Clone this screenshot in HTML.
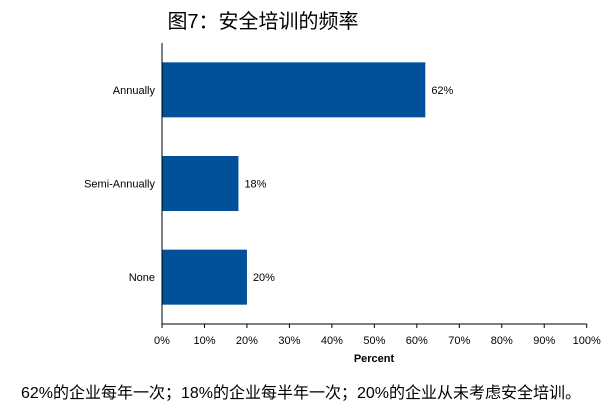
<!DOCTYPE html>
<html><head><meta charset="utf-8"><style>
body{margin:0;background:#fff;width:614px;height:413px;overflow:hidden;font-family:"Liberation Sans","Noto Sans CJK SC",sans-serif}
</style></head><body>
<svg width="614" height="413">
<text x="263" y="28" text-anchor="middle" font-size="20" fill="#000" font-family="Liberation Sans,Noto Sans CJK SC,sans-serif">图7：安全培训的频率</text>
<g id="plot"></g>
<text x="374" y="362" text-anchor="middle" font-size="11" font-weight="bold" fill="#000">Percent</text>
<text x="301" y="398" text-anchor="middle" font-size="16" fill="#000" font-family="Liberation Sans,Noto Sans CJK SC,sans-serif">62%的企业每年一次；18%的企业每半年一次；20%的企业从未考虑安全培训。</text>
</svg>
<script>
const categories=["Annually","Semi-Annually","None"];
const values=[62,18,20];
const tickValues=[0,10,20,30,40,50,60,70,80,90,100];
const NS="http://www.w3.org/2000/svg";
const g=document.getElementById('plot');
const x0=162,x1=586.7,yTop=43,yBot=324;
const xs=v=>x0+(x1-x0)*v/100;
const band=(yBot-yTop)/categories.length;
const bh=55;
function mk(t,a){const e=document.createElementNS(NS,t);for(const k in a)e.setAttribute(k,a[k]);g.appendChild(e);return e;}
categories.forEach((c,i)=>{
 const cy=yTop+band*(i+0.5);
 const r=mk('rect',{x:x0,y:cy-bh/2,width:xs(values[i])-x0,height:bh,fill:'#00519A'});
 
 
 const l=mk('text',{x:x0-7,y:cy+4,'text-anchor':'end','font-size':'11',fill:'#000'});l.textContent=c;
 
 
 const v=mk('text',{x:xs(values[i])+6,y:cy+4,'font-size':'11',fill:'#000'});v.textContent=values[i]+'%';
 
 
});
const ya=mk('line',{x1:x0,x2:x0,y1:yTop,y2:yBot,stroke:'#000','stroke-width':1});


const xa=mk('line',{x1:x0,x2:x1,y1:yBot,y2:yBot,stroke:'#000','stroke-width':1});


tickValues.forEach(t=>{
 const tk=mk('line',{x1:xs(t),x2:xs(t),y1:yBot,y2:yBot+4,stroke:'#000'});
 
 
 const tl=mk('text',{x:xs(t),y:yBot+20,'text-anchor':'middle','font-size':'11',fill:'#000'});tl.textContent=t+'%';
 
 
});
</script>
</body></html>
